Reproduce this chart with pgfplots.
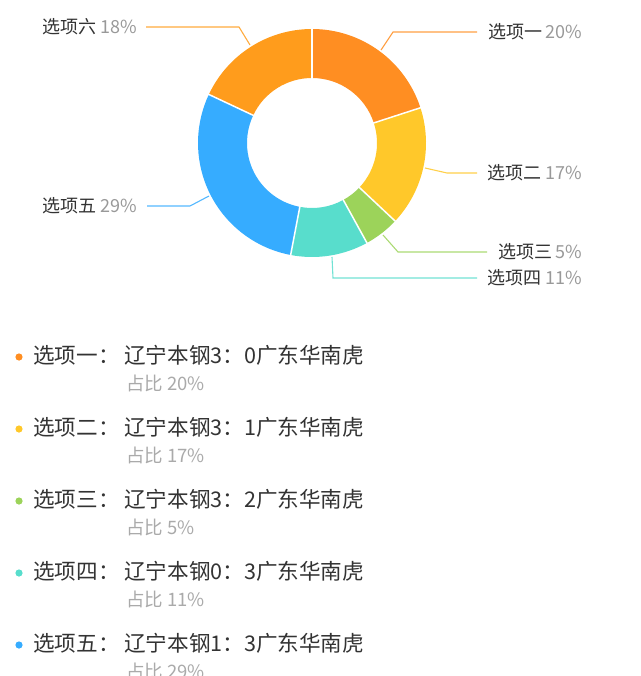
\documentclass[border=0pt]{standalone}
\usepackage{fontspec}
\setmainfont{Noto Sans CJK SC}
\usepackage{pgfplots}
\usepackage{pgfplotstable}
\pgfplotsset{compat=1.18}

\definecolor{c1}{HTML}{FF8E22}
\definecolor{c2}{HTML}{FFC82A}
\definecolor{c3}{HTML}{9CD35A}
\definecolor{c4}{HTML}{58DDCC}
\definecolor{c5}{HTML}{36ACFF}
\definecolor{c6}{HTML}{FF9C1C}
\definecolor{txt}{HTML}{333333}
\definecolor{pcol}{HTML}{999999}
\definecolor{subc}{HTML}{AAAAAA}

% share of each option, clockwise from the top
\pgfplotstableread{
pct
20
17
5
11
29
18
}\pcttable

\newcommand{\labfont}{\fontsize{18}{21}\selectfont}
\newcommand{\mainfont}{\fontsize{21.6}{26}\selectfont}
\newcommand{\subfont}{\fontsize{18.5}{22}\selectfont}

\begin{document}
\begin{tikzpicture}
\begin{axis}[
    hide axis,
    x=1pt, y=1pt, y dir=reverse,
    xmin=0, xmax=640, ymin=0, ymax=676,
    clip=false,
]
\pgfplotsextra{
  \coordinate (O) at (axis cs:312,143);
  \xdef\cum{0}
  \foreach \i/\col in {0/c1,1/c2,2/c3,3/c4,4/c5,5/c6} {
    \pgfplotstablegetelem{\i}{pct}\of\pcttable
    \pgfmathsetmacro\a{90-3.6*\cum}
    \pgfmathsetmacro\b{90-3.6*(\cum+\pgfplotsretval)}
    \fill[\col] ([shift={(\a:114pt)}]O) arc[start angle=\a, end angle=\b, radius=114pt]
      -- ([shift={(\b:65pt)}]O) arc[start angle=\b, end angle=\a, radius=65pt] -- cycle;
    \pgfmathsetmacro\c{\cum+\pgfplotsretval}
    \xdef\cum{\c}
  }
  \xdef\cum{0}
  \foreach \i in {0,...,5} {
    \pgfplotstablegetelem{\i}{pct}\of\pcttable
    \pgfmathsetmacro\a{90-3.6*\cum}
    \draw[white, line width=1.5pt] ([shift={(\a:63pt)}]O) -- ([shift={(\a:116pt)}]O);
    \pgfmathsetmacro\c{\cum+\pgfplotsretval}
    \xdef\cum{\c}
  }
  % list below the chart
  \foreach \col/\n/\s/\p [count=\k from 0] in {c1/一/3：0/20, c2/二/3：1/17, c3/三/3：2/5, c4/四/0：3/11, c5/五/1：3/29} {
    \pgfmathsetmacro\yy{355+72*\k}
    \pgfmathsetmacro\yd{\yy+2}
    \pgfmathsetmacro\ys{\yy+28}
    \fill[\col] (axis cs:19,\yd) circle[radius=3.6pt];
    \node[anchor=west, inner sep=0pt, font=\mainfont, text=txt] at (axis cs:33,\yy) {选项\n：};
    \node[anchor=west, inner sep=0pt, font=\mainfont, text=txt] at (axis cs:124,\yy) {辽宁本钢\s 广东华南虎};
    \node[anchor=west, inner sep=0pt, font=\subfont, text=subc] at (axis cs:126,\ys) {占比 \p\%};
  }
}

% leader lines
\draw[c1!85, line width=1.1pt] (axis cs:381,50) -- (axis cs:393,32) -- (axis cs:477,32);
\draw[c2!85, line width=1.1pt] (axis cs:425,168) -- (axis cs:447,173) -- (axis cs:477,173);
\draw[c3!85, line width=1.1pt] (axis cs:383,235) -- (axis cs:398,252) -- (axis cs:487,252);
\draw[c4!85, line width=1.1pt] (axis cs:332,257) -- (axis cs:333,278) -- (axis cs:477,278);
\draw[c5!85, line width=1.1pt] (axis cs:209,196) -- (axis cs:190,206) -- (axis cs:147,206);
\draw[c6!85, line width=1.1pt] (axis cs:250,45) -- (axis cs:239,27) -- (axis cs:146,27);

% slice labels
\node[anchor=east, inner sep=0pt, font=\labfont] at (axis cs:582,32) {\textcolor{txt}{选项一}\,\textcolor{pcol}{20\%}};
\node[anchor=east, inner sep=0pt, font=\labfont] at (axis cs:582,173) {\textcolor{txt}{选项二} \textcolor{pcol}{17\%}};
\node[anchor=east, inner sep=0pt, font=\labfont] at (axis cs:582,252) {\textcolor{txt}{选项三}\,\textcolor{pcol}{5\%}};
\node[anchor=east, inner sep=0pt, font=\labfont] at (axis cs:582,278) {\textcolor{txt}{选项四} \textcolor{pcol}{11\%}};
\node[anchor=west, inner sep=0pt, font=\labfont] at (axis cs:42,206) {\textcolor{txt}{选项五} \textcolor{pcol}{29\%}};
\node[anchor=west, inner sep=0pt, font=\labfont] at (axis cs:42,27) {\textcolor{txt}{选项六} \textcolor{pcol}{18\%}};
\end{axis}
\pgfresetboundingbox
\path[use as bounding box] (current axis.south west) rectangle (current axis.north east);
\end{tikzpicture}
\end{document}
